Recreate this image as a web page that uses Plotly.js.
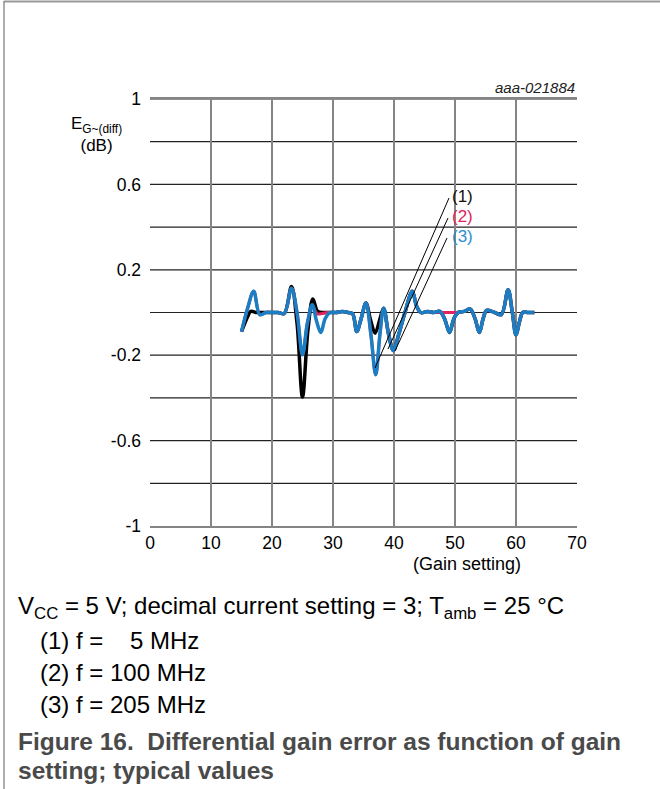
<!DOCTYPE html>
<html>
<head>
<meta charset="utf-8">
<script src="https://cdn.plot.ly/plotly-3.0.1.min.js"></script>
<style>
  html, body { margin: 0; padding: 0; background: #fff; }
  #chart { width: 660px; height: 789px; }
</style>
</head>
<body>
<div id="chart"></div>
<script>
// Differential gain error vs. gain setting, three test frequencies

// (1) f = 5 MHz
const gain1 = [15, 16, 16.5, 17.5, 19, 20, 21, 22, 23.2, 24.1, 25, 25.9, 26.7, 27.5, 28.5, 29.5, 30.5, 31.5, 32.5, 33.2, 33.9, 34.6, 35.4, 36.2, 36.9, 37.7, 38.3, 39.1, 39.9, 40.8, 41.8, 43, 43.7, 44.4, 45.5, 46.5, 47.5, 48.3, 49.1, 49.8, 50.5, 51.5, 52.5, 53.3, 54, 54.6, 55.2, 56.5, 57.6, 58.7, 59.4, 60, 60.6, 61.1, 62, 63];
const eg1 = [-0.09, -0.02, 0.005, 0, 0, 0, 0, -0.005, 0.122, -0.05, -0.396, -0.08, 0.063, 0.005, 0, 0, 0, 0.005, 0, -0.005, -0.089, -0.03, 0.044, -0.04, -0.097, -0.03, 0.02, -0.1, -0.178, -0.1, 0, 0.1, 0.03, 0, 0.005, 0, 0.005, -0.03, -0.094, -0.03, 0, 0.005, 0.016, -0.03, -0.094, -0.03, 0.01, 0, -0.01, 0.106, 0, -0.104, -0.04, 0, 0, 0];

// (2) f = 100 MHz
const gain2 = [15, 16, 17, 18, 19, 20, 21, 22, 23.2, 24.1, 25, 25.8, 26.6, 27.4, 28.2, 29, 29.8, 30.5, 31.5, 32.5, 33.2, 33.9, 34.6, 35.4, 36.2, 37, 37.7, 38.3, 39.1, 39.9, 40.8, 41.8, 43, 43.7, 44.4, 45.5, 46.5, 47.5, 48.5, 49.5, 50.5, 51.5, 52.5, 53.3, 54, 54.6, 55.2, 56.5, 57.6, 58.7, 59.4, 60, 60.6, 61.1, 62, 63];
const eg2 = [-0.09, 0.02, 0.1, -0.01, 0, 0, 0, -0.005, 0.114, 0, -0.198, -0.05, 0.03, -0.005, -0.005, 0, 0, 0, 0.005, 0, -0.005, -0.089, -0.03, 0.044, -0.1, -0.292, -0.1, 0.02, -0.1, -0.178, -0.1, 0, 0.1, 0.03, 0, 0.005, 0, 0, 0, 0, 0, 0.005, 0.016, -0.03, -0.094, -0.03, 0.01, 0, -0.01, 0.106, 0, -0.104, -0.04, 0, 0, 0];

// (3) f = 205 MHz
const gain3 = [15, 16, 17, 18, 19, 20, 21, 22, 23.2, 24.1, 25, 25.8, 26.6, 27.3, 28, 28.7, 29.5, 30.5, 31.5, 32.5, 33.2, 33.9, 34.6, 35.4, 36.2, 37, 37.7, 38.3, 39.1, 39.9, 40.8, 41.8, 43, 43.7, 44.4, 45.5, 46.5, 47.5, 48.3, 49.1, 49.8, 50.5, 51.5, 52.5, 53.3, 54, 54.6, 55.2, 56.5, 57.6, 58.7, 59.4, 60, 60.6, 61.1, 62, 63];
const eg3 = [-0.09, 0.02, 0.1, -0.01, 0, 0, 0, -0.005, 0.114, 0, -0.198, -0.05, 0.036, -0.04, -0.094, -0.03, 0, 0, 0.005, 0, -0.005, -0.089, -0.03, 0.044, -0.1, -0.292, -0.1, 0.02, -0.1, -0.178, -0.1, 0, 0.1, 0.03, 0, 0.005, 0, 0.005, -0.03, -0.094, -0.03, 0, 0.005, 0.016, -0.03, -0.094, -0.03, 0.01, 0, -0.01, 0.106, 0, -0.104, -0.04, 0, 0, 0];

const xTickVals = [0, 10, 20, 30, 40, 50, 60, 70];
const xTickText = ['0', '10', '20', '30', '40', '50', '60', '70'];
const yTickVals = [-1, -0.6, -0.2, 0.2, 0.6, 1];
const yTickText = ['-1', '-0.6', '-0.2', '0.2', '0.6', '1'];
const yGridVals = [-0.8, -0.6, -0.4, -0.2, 0, 0.2, 0.4, 0.6, 0.8, 1];

const seriesLabels = ['(1)', '(2)', '(3)'];
const conditionLines = [
  'V<sub>CC</sub> = 5 V; decimal current setting = 3; T<sub>amb</sub> = 25 °C',
  '(1) f =\u00a0\u00a0\u00a0\u00a05 MHz',
  '(2) f = 100 MHz',
  '(3) f = 205 MHz'
];
const figureCaption = [
  '<b>Figure 16.\u00a0\u00a0Differential gain error as function of gain</b>',
  '<b>setting; typical values</b>'
];

const FONT = '"Liberation Sans", Arial, sans-serif';
const colBlack = '#000000';
const colRed = '#e0245e';
const colBlue = '#1b7dc3';

// plot area in page pixels
const W = 660, H = 789;
const L = 150, R = 577, T = 99, B = 526;
const px = v => (v - L) / (R - L);
const py = v => (B - v) / (B - T);

const traces = [
  { x: gain1, y: eg1, mode: 'lines', line: { color: colBlack, width: 3.5, shape: 'spline', smoothing: 1 }, hoverinfo: 'skip' },
  { x: gain2, y: eg2, mode: 'lines', line: { color: colRed, width: 3, shape: 'spline', smoothing: 1 }, hoverinfo: 'skip' },
  { x: gain3, y: eg3, mode: 'lines', line: { color: colBlue, width: 3.5, shape: 'spline', smoothing: 1 }, hoverinfo: 'skip' }
];

const annotations = [
  { xref: 'paper', yref: 'paper', x: 1, y: 1, xanchor: 'right', yanchor: 'bottom', yshift: 1,
    text: '<i>aaa-021884</i>', showarrow: false, font: { family: FONT, size: 15, color: '#222' } },
  { xref: 'paper', yref: 'paper', x: px(96), y: py(134), xanchor: 'center', yanchor: 'middle',
    text: 'E<sub>G~(diff)</sub><br>(dB)', showarrow: false, align: 'center',
    font: { family: FONT, size: 17, color: '#000' } },
  { xref: 'paper', yref: 'paper', x: px(467), y: py(564), xanchor: 'center', yanchor: 'middle',
    text: '(Gain setting)', showarrow: false, font: { family: FONT, size: 18, color: '#000' } },
  { xref: 'paper', yref: 'paper', x: px(450), y: py(196), xanchor: 'left', yanchor: 'middle',
    text: seriesLabels[0], showarrow: false, font: { family: FONT, size: 17, color: '#111' } },
  { xref: 'paper', yref: 'paper', x: px(450), y: py(216), xanchor: 'left', yanchor: 'middle',
    text: seriesLabels[1], showarrow: false, font: { family: FONT, size: 17, color: colRed } },
  { xref: 'paper', yref: 'paper', x: px(450), y: py(236), xanchor: 'left', yanchor: 'middle',
    text: seriesLabels[2], showarrow: false, font: { family: FONT, size: 17, color: '#2a8fd0' } }
];

const condY = [607, 640, 672, 704];
const condX = [16, 38, 38, 38];
conditionLines.forEach((t, i) => annotations.push({
  xref: 'paper', yref: 'paper', x: px(condX[i]), y: py(condY[i]), xanchor: 'left', yanchor: 'middle',
  text: t, showarrow: false, font: { family: FONT, size: 24, color: '#000' }
}));
const capY = [741, 770];
figureCaption.forEach((t, i) => annotations.push({
  xref: 'paper', yref: 'paper', x: px(16), y: py(capY[i]), xanchor: 'left', yanchor: 'middle',
  text: t, showarrow: false, font: { family: FONT, size: 24.5, color: '#4a4a4a' }
}));

// horizontal grid rules every 0.2 dB, drawn below the curves
const shapes = yGridVals.map(v => ({
  type: 'line', xref: 'paper', yref: 'y', layer: 'below',
  x0: 0, x1: 1, y0: v, y1: v,
  line: { color: '#222', width: 1.2 }
}));

// leader lines from the curve labels to the curves (page pixels)
const leaders = [
  [449, 198, 375, 368],
  [448, 218, 388, 349],
  [447, 238, 395, 351]
];
leaders.forEach(([x0, y0, x1, y1]) => shapes.push({
  type: 'line', xref: 'paper', yref: 'paper',
  x0: px(x0), y0: py(y0), x1: px(x1), y1: py(y1),
  line: { color: '#000', width: 1 }
}));
// page frame: top rule and left rule
shapes.push({ type: 'line', xref: 'paper', yref: 'paper', x0: px(4), x1: px(W), y0: py(1.5), y1: py(1.5), line: { color: '#9a9a9a', width: 2 } });
shapes.push({ type: 'line', xref: 'paper', yref: 'paper', x0: px(4), x1: px(4), y0: py(1), y1: py(H), line: { color: '#777', width: 1.2 } });

const layout = {
  width: W, height: H,
  margin: { l: L, r: W - R, t: T, b: H - B, pad: 0 },
  paper_bgcolor: '#fff', plot_bgcolor: '#fff',
  showlegend: false,
  font: { family: FONT, size: 17, color: '#000' },
  xaxis: {
    range: [0, 70], tickvals: xTickVals, ticktext: xTickText,
    showgrid: true, gridcolor: '#858585', gridwidth: 2,
    showline: true, mirror: true, linecolor: '#858585', linewidth: 2,
    zeroline: false, ticks: '', ticklen: 0,
    tickfont: { family: FONT, size: 17.5, color: '#000' }
  },
  yaxis: {
    range: [-1, 1], tickvals: yTickVals, ticktext: yTickText,
    showgrid: false, showline: false, zeroline: false, ticks: '', ticklen: 0,
    tickfont: { family: FONT, size: 17.5, color: '#000' },
    ticklabelstandoff: 8
  },
  annotations: annotations,
  shapes: shapes
};

Plotly.newPlot('chart', traces, layout, { staticPlot: true, displayModeBar: false });
</script>
</body>
</html>
